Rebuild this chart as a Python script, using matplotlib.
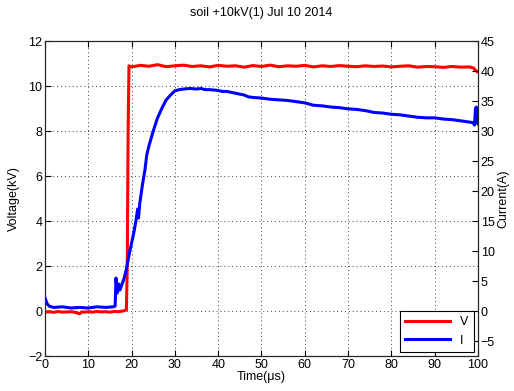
import numpy as np
import matplotlib
matplotlib.use('Agg')
import matplotlib.pyplot as plt

plt.rcParams['font.family'] = ['Liberation Sans', 'DejaVu Sans']

# voltage trace (kV)
t_v = [0, 1, 2, 3, 4, 5, 6, 7, 8, 8.5, 9, 10, 11, 12, 13, 14, 15, 16, 17, 18, 18.8,
       19.0, 19.2, 19.4, 20, 22, 24, 26, 28, 30, 32, 34, 36, 38, 40, 42, 44, 46, 48,
       50, 52, 54, 56, 58, 60, 62, 64, 66, 68, 70, 72, 74, 76, 78, 80, 82, 84, 86,
       88, 90, 92, 94, 96, 98, 99, 99.5, 100]
volt = [-0.05, -0.03, -0.06, -0.02, -0.05, -0.04, -0.03, -0.06, -0.12, -0.04, -0.05,
        -0.03, -0.05, -0.02, -0.04, -0.03, -0.05, -0.02, -0.03, 0.0, 0.05,
        2.0, 8.0, 10.9, 10.85, 10.92, 10.88, 10.95, 10.86, 10.9, 10.93, 10.87, 10.9,
        10.85, 10.92, 10.88, 10.9, 10.84, 10.91, 10.87, 10.93, 10.86, 10.9, 10.88,
        10.92, 10.85, 10.9, 10.87, 10.91, 10.88, 10.86, 10.9, 10.87, 10.89, 10.85,
        10.88, 10.9, 10.84, 10.87, 10.86, 10.83, 10.87, 10.84, 10.85, 10.8, 10.68, 10.62]

# current trace (A)
t_i = [0, 0.5, 1, 2, 4, 6, 8, 10, 12, 14, 15.8, 16.2, 16.4, 16.7, 17, 17.3, 17.8,
       18.3, 18.8, 19.6, 20.5, 21.0, 21.4, 21.6, 21.9, 22.5, 23.1, 23.5, 24, 25, 26,
       27, 28, 29, 30, 31, 32, 33.5, 35, 36, 37, 38, 39.6, 41, 42, 44, 46, 47, 48,
       50, 52, 54, 56, 58, 60, 62, 64, 66, 68, 70, 72, 74, 76, 78, 80, 82, 84, 86,
       88, 90, 92, 94, 96, 98, 98.8, 99.2, 99.4, 99.6, 99.8, 100]
curr = [2.2, 1.2, 0.8, 0.6, 0.7, 0.5, 0.6, 0.5, 0.7, 0.6, 0.7, 0.8, 5.5, 3.0, 4.5,
        3.5, 4.5, 5.5, 7.0, 10.0, 13.0, 15.0, 17.0, 15.5, 18.0, 21.0, 23.6, 26.0,
        27.5, 30.0, 32.2, 33.8, 35.2, 36.0, 36.7, 36.9, 37.0, 37.1, 37.0, 37.1, 36.9,
        36.9, 36.8, 36.6, 36.6, 36.3, 36.0, 35.7, 35.6, 35.5, 35.3, 35.2, 35.1, 34.9,
        34.7, 34.3, 34.2, 34.0, 33.9, 33.7, 33.6, 33.4, 33.1, 33.0, 32.8, 32.7, 32.5,
        32.3, 32.2, 32.2, 32.0, 31.9, 31.7, 31.5, 31.4, 31.0, 33.6, 34.0, 31.5, 31.2]

fig = plt.figure(figsize=(5.14, 3.91), dpi=100)
ax = fig.add_axes([0.0875, 0.0895, 0.8425, 0.8055])
ax2 = ax.twinx()

lv, = ax.plot(t_v, volt, color='#ff0000', lw=2.2)
li, = ax2.plot(t_i, curr, color='#0000ff', lw=2.2)

ax.set_xlim(0, 100)
ax.set_ylim(-2, 12)
ax2.set_ylim(-7.5, 45)
ax.set_xticks(np.arange(0, 101, 10))
ax.set_yticks(np.arange(-2, 13, 2))
ax2.set_yticks(np.arange(-5, 46, 5))

ax.grid(True, linestyle=(0, (1, 3)), color='0.25', lw=0.7)
for a in (ax, ax2):
    a.tick_params(direction='in', length=4, labelsize=9, pad=2)
ax.tick_params(top=True)
for s in ax2.spines.values():
    s.set_color('0.15')

ax.set_xlabel('Time(μs)', fontsize=9, labelpad=0)
ax.set_ylabel('Voltage(kV)', fontsize=9, labelpad=6)
ax2.set_ylabel('Current(A)', fontsize=9, rotation=90, labelpad=2)
ax.set_title('soil +10kV(1) Jul 10 2014', fontsize=9, pad=18)

leg = ax2.legend([lv, li], ['V', 'I'], loc='lower right', fontsize=9,
                 handlelength=3.6, fancybox=False, framealpha=1,
                 edgecolor='black', borderaxespad=0.35)
leg.get_frame().set_linewidth(0.8)

fig.savefig('out.png', dpi=100)
